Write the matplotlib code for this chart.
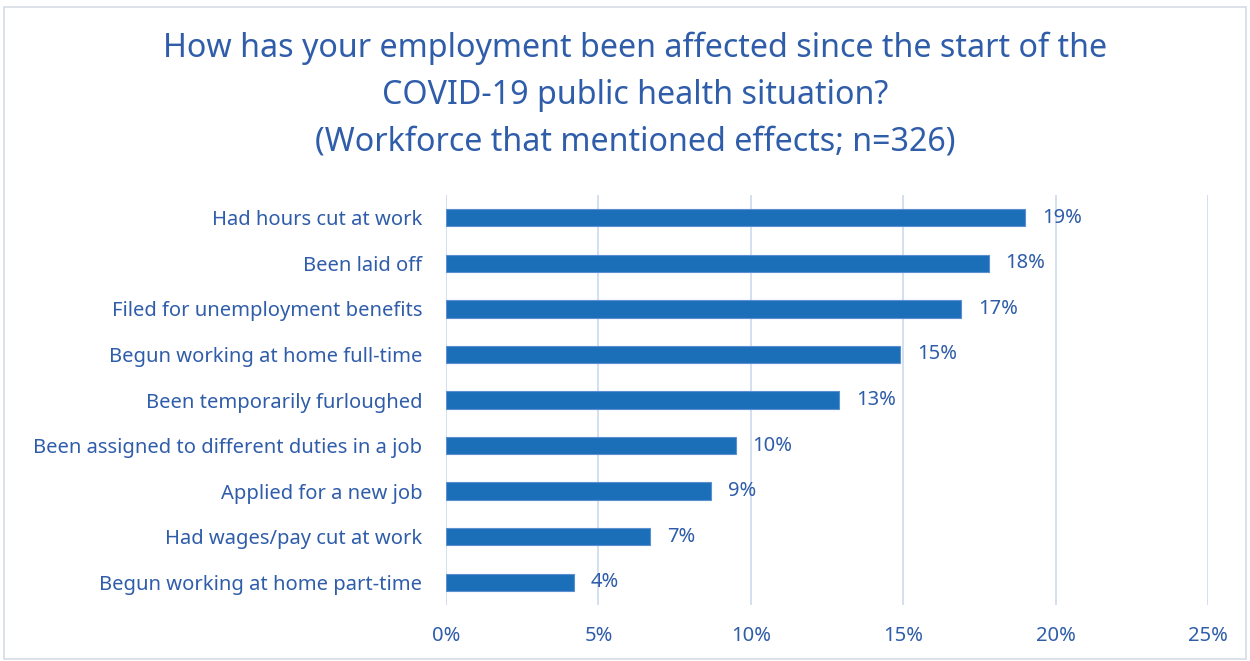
import matplotlib
matplotlib.use("Agg")
import matplotlib.pyplot as plt
from matplotlib.patches import Rectangle
from matplotlib.ticker import FuncFormatter, MultipleLocator

categories = [
    "Had hours cut at work",
    "Been laid off",
    "Filed for unemployment benefits",
    "Begun working at home full-time",
    "Been temporarily furloughed",
    "Been assigned to different duties in a job",
    "Applied for a new job",
    "Had wages/pay cut at work",
    "Begun working at home part-time",
]
values = [19.0, 17.8, 16.9, 14.9, 12.9, 9.5, 8.7, 6.7, 4.2]
labels = ["19%", "18%", "17%", "15%", "13%", "10%", "9%", "7%", "4%"]
title = ("How has your employment been affected since the start of the\n"
         "COVID-19 public health situation?\n"
         "(Workforce that mentioned effects; n=326)")

TEXT = "#2F5DAA"
BAR = "#1B6FB9"
GRID = "#D0DCEF"

plt.rcParams['font.family'] = ['Noto Sans', 'DejaVu Sans']

fig = plt.figure(figsize=(12.5, 6.61), dpi=100)
ax = fig.add_axes([0.3568, 0.0847, 0.6096, 0.6203])

y = list(range(len(categories)))
ax.barh(y, values, height=0.38, color=BAR, edgecolor="#5B8FD0", linewidth=0.8, zorder=3)
for yi, v, lab in zip(y, values, labels):
    ax.text(v + 0.55, yi, lab, va="center", ha="left", fontsize=14.5, color=TEXT)

ax.set_yticks(y)
ax.set_yticklabels(categories, fontsize=14.5, color=TEXT)
ax.set_ylim(len(categories) - 0.5, -0.5)
ax.set_xlim(0, 25)
ax.xaxis.set_major_locator(MultipleLocator(5))
ax.xaxis.set_major_formatter(FuncFormatter(lambda v, p: f"{v:.0f}%"))
ax.tick_params(axis="x", labelsize=14.5, labelcolor=TEXT, length=0, pad=15)
ax.tick_params(axis="y", length=0, pad=17)
ax.grid(axis="x", color=GRID, linewidth=1.3, zorder=0)
for s in ax.spines.values():
    s.set_visible(False)

fig.text(0.508, 0.856, title, ha="center", va="center", fontsize=23.2, color=TEXT, linespacing=1.56)

fig.patches.append(Rectangle((0.003, 0.003), 0.994, 0.987, transform=fig.transFigure,
                             fill=False, edgecolor="#D5DCE6", linewidth=1.2))

fig.savefig("out.png", dpi=100)
